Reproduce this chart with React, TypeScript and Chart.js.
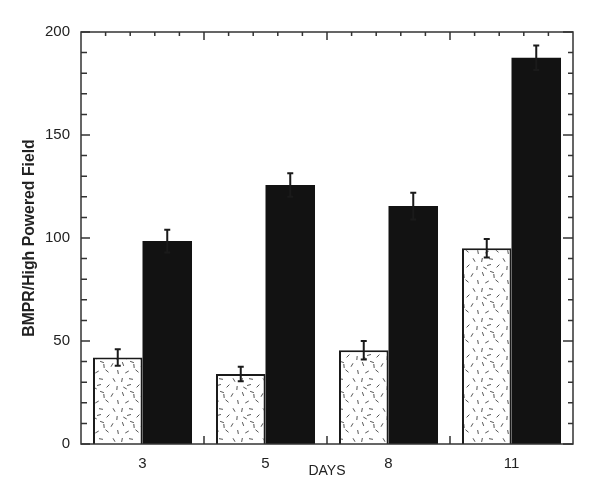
import { useEffect, useRef } from "react";
import { Chart, registerables } from "chart.js";
Chart.register(...registerables);

const days = ["3", "5", "8", "11"];
const controlValues = [42, 34, 45.5, 95];
const controlErrors = [4, 3.5, 4.5, 4.5];
const treatedValues = [98.5, 125.7, 115.5, 187.5];
const treatedErrors = [5.5, 5.7, 6.5, 6];
const yMin = 0;
const yMax = 200;
const yMajorStep = 50;
const yMinorStep = 10;
const xMinorDivisions = 5;

// speckle tile for the hatched bars: [x, y, angle in degrees]
const speckles: [number, number, number][] = [
  [3, 4, 70], [12, 2, 20], [22, 5, 120], [28, 12, 80], [7, 12, 150],
  [17, 11, 40], [2, 20, 100], [11, 19, 10], [24, 20, 60], [18, 26, 135],
  [5, 28, 30], [27, 28, 95], [14, 6, 85], [9, 25, 165],
];

function makePattern(): CanvasPattern | string {
  const c = document.createElement("canvas");
  c.width = 30;
  c.height = 30;
  const g = c.getContext("2d");
  if (!g) return "#fff";
  g.fillStyle = "#fff";
  g.fillRect(0, 0, 30, 30);
  g.strokeStyle = "#555";
  g.lineWidth = 1;
  for (const [x, y, a] of speckles) {
    const r = (a * Math.PI) / 180;
    const dx = Math.cos(r) * 2;
    const dy = Math.sin(r) * 2;
    g.beginPath();
    g.moveTo(x - dx, y - dy);
    g.lineTo(x + dx, y + dy);
    g.stroke();
  }
  return g.createPattern(c, "repeat") || "#fff";
}

const framePlugin = {
  id: "frameAndErrors",
  afterDatasetsDraw(chart: any) {
    const ctx = chart.ctx;
    const { left, right, top, bottom } = chart.chartArea;
    const ys = chart.scales.y;
    const xs = chart.scales.x;
    ctx.save();
    // error bars
    const errs = [controlErrors, treatedErrors];
    const vals = [controlValues, treatedValues];
    ctx.strokeStyle = "#1a1a1a";
    ctx.lineWidth = 2;
    for (let d = 0; d < 2; d++) {
      const meta = chart.getDatasetMeta(d);
      meta.data.forEach((el: any, i: number) => {
        const v = vals[d][i];
        const e = errs[d][i];
        const yt = ys.getPixelForValue(v + e);
        const yb = ys.getPixelForValue(v - e);
        const x = el.x;
        ctx.beginPath();
        ctx.moveTo(x, yt);
        ctx.lineTo(x, yb);
        ctx.moveTo(x - 3, yt);
        ctx.lineTo(x + 3, yt);
        ctx.moveTo(x - 3, yb);
        ctx.lineTo(x + 3, yb);
        ctx.stroke();
      });
    }
    // frame
    ctx.strokeStyle = "#333";
    ctx.lineWidth = 1.5;
    ctx.strokeRect(left, top, right - left, bottom - top);
    // y ticks
    ctx.lineWidth = 1.5;
    ctx.beginPath();
    for (let v = yMin; v <= yMax; v += yMinorStep) {
      const y = ys.getPixelForValue(v);
      const major = v % yMajorStep === 0;
      const lenL = major ? 9 : 6;
      const lenR = major ? 10 : 5;
      ctx.moveTo(left, y);
      ctx.lineTo(left + lenL, y);
      ctx.moveTo(right, y);
      ctx.lineTo(right - lenR, y);
    }
    // x ticks
    const n = days.length;
    for (let i = 0; i <= n; i++) {
      const xb = xs.getPixelForValue(i - 0.5);
      if (i > 0 && i < n) {
        ctx.moveTo(xb, bottom);
        ctx.lineTo(xb, bottom - 8);
        ctx.moveTo(xb, top);
        ctx.lineTo(xb, top + 8);
      }
      if (i < n) {
        for (let k = 1; k < xMinorDivisions; k++) {
          const xm = xs.getPixelForValue(i - 0.5 + k / xMinorDivisions);
          ctx.moveTo(xm, top);
          ctx.lineTo(xm, top + 4);
        }
      }
    }
    ctx.stroke();
    ctx.restore();
  },
};

export default function App() {
  const ref = useRef<HTMLCanvasElement | null>(null);
  useEffect(() => {
    if (!ref.current) return;
    const pattern = makePattern();
    const chart = new Chart(ref.current, {
      type: "bar",
      data: {
        labels: days,
        datasets: [
          {
            label: "Control",
            data: controlValues,
            backgroundColor: pattern as any,
            borderColor: "#1a1a1a",
            borderWidth: 2,
            borderSkipped: "bottom",
            categoryPercentage: 0.805,
            barPercentage: 1,
          },
          {
            label: "Treated",
            data: treatedValues,
            backgroundColor: "#121212",
            borderWidth: 0,
            categoryPercentage: 0.805,
            barPercentage: 1,
          },
        ],
      },
      options: {
        animation: false,
        responsive: true,
        maintainAspectRatio: false,
        layout: { padding: { left: 0, top: 32, right: 27, bottom: 0 } },
        plugins: { legend: { display: false }, tooltip: { enabled: false } },
        scales: {
          x: {
            grid: { display: false, drawTicks: false },
            border: { display: false },
            ticks: {
              padding: 11,
              color: "#222",
              font: { family: "Liberation Sans, Arial, sans-serif", size: 15 },
            },
            title: {
              display: true,
              text: "DAYS",
              color: "#222",
              font: { family: "Liberation Sans, Arial, sans-serif", size: 14 },
              padding: { top: 0, bottom: 16.6 },
            },
            afterFit: (s: any) => {
              s.height = 52;
            },
          },
          y: {
            min: yMin,
            max: yMax,
            grid: { display: false, drawTicks: false },
            border: { display: false },
            ticks: {
              stepSize: yMajorStep,
              padding: 11,
              color: "#222",
              font: { family: "Liberation Sans, Arial, sans-serif", size: 15 },
            },
            title: {
              display: true,
              text: "BMPR/High Powered Field",
              color: "#222",
              font: { family: "Liberation Sans, Arial, sans-serif", size: 15.8, weight: "bold" },
              padding: { top: 20.5, bottom: 0 },
            },
            afterFit: (s: any) => {
              s.width = 81;
            },
          },
        },
      },
      plugins: [framePlugin],
    });
    return () => chart.destroy();
  }, []);
  return (
    <div style={{ position: "fixed", left: 0, top: 0, width: 600, height: 496, background: "#fff" }}>
      <canvas ref={ref} />
    </div>
  );
}
